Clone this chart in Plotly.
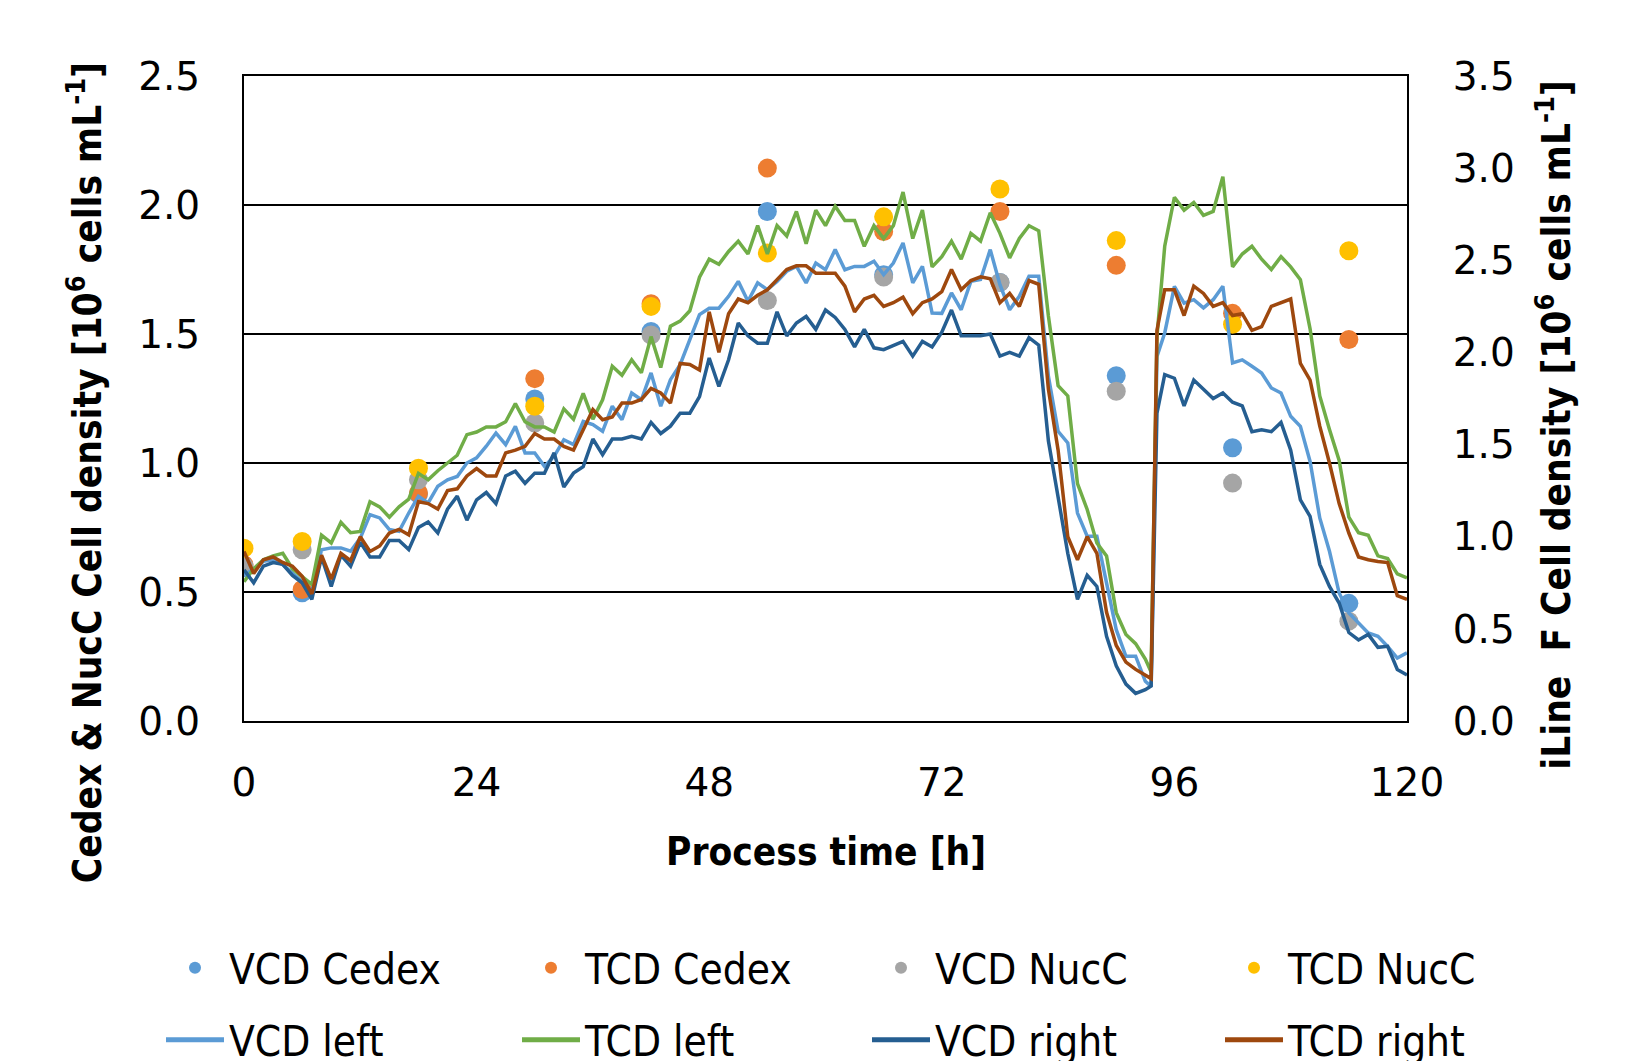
import plotly.graph_objects as go

# ---------------- data ----------------
sample_h = [0, 6, 18, 30, 42, 54, 66, 78, 90, 102, 114]
vcd_cedex = [0.594, 0.497, 0.88, 1.248, 1.51, 1.975, 1.73, 1.70, 1.338, 1.059, 0.456]
tcd_cedex = [0.606, 0.51, 0.884, 1.327, 1.617, 2.143, 1.897, 1.975, 1.766, 1.58, 1.479]
vcd_nucc = [0.60, 0.664, 0.935, 1.155, 1.496, 1.63, 1.721, 1.70, 1.278, 0.922, 0.387]
tcd_nucc = [0.67, 0.696, 0.98, 1.22, 1.607, 1.814, 1.954, 2.062, 1.862, 1.538, 1.823]

time_h = list(range(0, 94)) + [93.6, 94.2] + list(range(95, 121))

vcd_left = [0.567, 0.587, 0.619, 0.625, 0.606, 0.574, 0.541, 0.503, 0.664, 0.671, 0.671, 0.658, 0.709, 0.80, 0.787, 0.742, 0.735, 0.806, 0.871, 0.845, 0.91, 0.935, 0.948, 1.0, 1.02,
            1.065, 1.116, 1.071, 1.142, 1.039, 1.039, 0.987, 1.026, 1.09, 1.071, 1.161, 1.149, 1.123, 1.22, 1.168, 1.271, 1.245, 1.349, 1.22, 1.323, 1.381, 1.478, 1.575, 1.60,
            1.60, 1.646, 1.704, 1.627, 1.698, 1.672, 1.704, 1.743, 1.762, 1.698, 1.775, 1.749, 1.827, 1.749, 1.762, 1.762, 1.782, 1.73, 1.775, 1.853, 1.698, 1.762, 1.581, 1.58,
            1.659, 1.594, 1.704, 1.711, 1.827, 1.691, 1.594, 1.646, 1.724, 1.724, 1.336, 1.123, 1.078, 0.806, 0.716, 0.716, 0.535, 0.354, 0.251, 0.251, 0.154,
            0.134, 1.413, 1.504, 1.685,
            1.62, 1.633, 1.601, 1.633, 1.685, 1.388, 1.40, 1.375, 1.349, 1.291, 1.271, 1.181, 1.142, 1.006, 0.787, 0.658, 0.496, 0.419, 0.38, 0.341, 0.328, 0.289, 0.244, 0.264]

tcd_left = [0.54, 0.59, 0.625, 0.64, 0.65, 0.59, 0.56, 0.53, 0.72, 0.69, 0.77, 0.73, 0.735, 0.85, 0.83, 0.79, 0.83, 0.86, 0.96, 0.935, 0.97, 1.0, 1.03, 1.11, 1.12,
            1.14, 1.14, 1.16, 1.23, 1.16, 1.14, 1.14, 1.12, 1.21, 1.17, 1.27, 1.17, 1.245, 1.375, 1.34, 1.40, 1.35, 1.49, 1.37, 1.53, 1.55, 1.59, 1.72, 1.79,
            1.77, 1.82, 1.86, 1.81, 1.92, 1.81, 1.92, 1.88, 1.975, 1.85, 1.98, 1.92, 1.995, 1.94, 1.94, 1.84, 1.92, 1.87, 1.92, 2.05, 1.87, 1.98, 1.76, 1.80,
            1.86, 1.79, 1.89, 1.86, 1.97, 1.89, 1.795, 1.87, 1.92, 1.90, 1.57, 1.30, 1.26, 0.92, 0.82, 0.69, 0.64, 0.42, 0.335, 0.30, 0.24,
            0.19, 1.49, 1.84, 2.03,
            1.98, 2.01, 1.96, 1.975, 2.11, 1.76, 1.81, 1.84, 1.79, 1.75, 1.80, 1.76, 1.71, 1.52, 1.26, 1.13, 1.01, 0.79, 0.73, 0.72, 0.64, 0.63, 0.57, 0.555]

vcd_right = [0.82, 0.75, 0.84, 0.86, 0.85, 0.79, 0.75, 0.66, 0.89, 0.73, 0.90, 0.84, 0.97, 0.89, 0.89, 0.98, 0.98, 0.93, 1.05, 1.08, 1.02, 1.15, 1.22, 1.09, 1.20,
             1.24, 1.18, 1.33, 1.355, 1.29, 1.345, 1.345, 1.455, 1.27, 1.345, 1.38, 1.53, 1.445, 1.53, 1.53, 1.545, 1.53, 1.62, 1.56, 1.60, 1.67, 1.67, 1.76, 1.97,
             1.815, 1.96, 2.16, 2.09, 2.05, 2.05, 2.22, 2.09, 2.16, 2.195, 2.125, 2.23, 2.19, 2.125, 2.03, 2.125, 2.025, 2.015, 2.04, 2.06, 1.98, 2.06, 2.03, 2.11,
             2.23, 2.09, 2.09, 2.09, 2.10, 1.98, 2.00, 1.98, 2.08, 2.04, 1.52, 1.22, 0.91, 0.66, 0.79, 0.73, 0.46, 0.30, 0.20, 0.15, 0.17,
             0.19, 1.67, 1.88, 1.86,
             1.71, 1.85, 1.80, 1.75, 1.78, 1.73, 1.71, 1.57, 1.58, 1.57, 1.62, 1.47, 1.20, 1.11, 0.85, 0.73, 0.64, 0.48, 0.44, 0.47, 0.40, 0.405, 0.28, 0.25]

tcd_right = [0.92, 0.80, 0.875, 0.89, 0.86, 0.84, 0.785, 0.69, 0.90, 0.77, 0.91, 0.87, 1.00, 0.92, 0.95, 1.02, 1.04, 1.01, 1.19, 1.18, 1.15, 1.25, 1.26, 1.33, 1.37,
             1.33, 1.33, 1.455, 1.47, 1.49, 1.56, 1.53, 1.53, 1.49, 1.47, 1.58, 1.69, 1.635, 1.65, 1.725, 1.725, 1.745, 1.805, 1.78, 1.725, 1.94, 1.935, 1.905, 2.22,
             2.00, 2.21, 2.29, 2.27, 2.31, 2.34, 2.395, 2.45, 2.47, 2.47, 2.43, 2.43, 2.43, 2.36, 2.22, 2.29, 2.31, 2.25, 2.27, 2.30, 2.21, 2.27, 2.29, 2.33,
             2.45, 2.34, 2.39, 2.41, 2.40, 2.27, 2.32, 2.25, 2.39, 2.37, 1.80, 1.47, 1.00, 0.875, 1.00, 0.91, 0.59, 0.41, 0.32, 0.28, 0.25,
             0.23, 2.12, 2.34, 2.34,
             2.20, 2.36, 2.32, 2.25, 2.27, 2.20, 2.21, 2.12, 2.14, 2.25, 2.27, 2.29, 1.94, 1.85, 1.60, 1.40, 1.18, 1.02, 0.89, 0.875, 0.865, 0.86, 0.68, 0.66]

x_ticks = [0, 24, 48, 72, 96, 120]

# ---------------- styling ----------------
W, H = 1639, 1061
L, R, T, B = 243.6, 1407.0, 76.3, 721.3
TXT = "DejaVu Sans Condensed, Liberation Sans Narrow, sans-serif"
TICK = "DejaVu Sans, Verdana, sans-serif"

fig = go.Figure()

marker_specs = [
    ("VCD Cedex", vcd_cedex, "#5B9BD5"),
    ("TCD Cedex", tcd_cedex, "#ED7D31"),
    ("VCD NucC", vcd_nucc, "#A5A5A5"),
    ("TCD NucC", tcd_nucc, "#FFC000"),
]
line_specs = [
    ("VCD left", vcd_left, "#5B9BD5", "y"),
    ("TCD left", tcd_left, "#70AD47", "y"),
    ("VCD right", vcd_right, "#255E91", "y2"),
    ("TCD right", tcd_right, "#9E480E", "y2"),
]

legend_ids = []
k = 0
for name, vals, col in marker_specs:
    k += 1
    lid = "legend" if k == 1 else f"legend{k}"
    legend_ids.append(lid)
    fig.add_trace(go.Scatter(x=sample_h, y=vals, mode="markers", name=name,
                             marker=dict(color=col, size=19, line=dict(width=0)),
                             legend=lid, yaxis="y"))
for name, vals, col, ax in line_specs:
    k += 1
    lid = f"legend{k}"
    legend_ids.append(lid)
    fig.add_trace(go.Scatter(x=time_h, y=vals, mode="lines", name=name,
                             line=dict(color=col, width=3.5),
                             legend=lid, yaxis=ax))

layout_legends = {}
col_x = [161, 517, 867, 1220]
row_y = [968, 1040]
for i, lid in enumerate(legend_ids):
    r, c = divmod(i, 4)
    layout_legends[lid] = dict(
        x=col_x[c] / W, y=1 - row_y[r] / H, xref="container", yref="container",
        xanchor="left", yanchor="middle", orientation="h", itemwidth=58,
        font=dict(family=TXT, size=42, color="black"),
        bgcolor="rgba(0,0,0,0)", borderwidth=0, itemsizing="constant",
    )

fig.update_layout(
    width=W, height=H,
    paper_bgcolor="white", plot_bgcolor="white",
    margin=dict(l=L, r=W - R, t=T, b=H - B, pad=0, autoexpand=False),
    showlegend=True,
    xaxis=dict(range=[0, 120], tickvals=x_ticks, showgrid=False, zeroline=False,
               showline=True, linecolor="black", linewidth=2, mirror=True,
               ticks="outside", ticklen=26, tickcolor="rgba(0,0,0,0)",
               tickfont=dict(family=TICK, size=39, color="black")),
    yaxis=dict(range=[0, 2.5], dtick=0.5, tickformat=".1f", showgrid=True,
               gridcolor="black", gridwidth=1.5, zeroline=False,
               showline=True, linecolor="black", linewidth=2, mirror=True,
               ticks="outside", ticklen=34, tickcolor="rgba(0,0,0,0)",
               tickfont=dict(family=TICK, size=39, color="black")),
    yaxis2=dict(range=[0, 3.5], dtick=0.5, tickformat=".1f", overlaying="y", side="right",
                showgrid=False, zeroline=False, showline=False,
                ticks="outside", ticklen=37, tickcolor="rgba(0,0,0,0)",
                tickfont=dict(family=TICK, size=39, color="black")),
    **layout_legends,
)

title_font = dict(family=TXT, size=38.5, color="black")
fig.add_annotation(text="<b>Process time [h]</b>", xref="paper", yref="paper",
                   x=0.5, y=(B - 852) / (B - T), showarrow=False, font=title_font,
                   xanchor="center", yanchor="middle")
fig.add_annotation(text="<b>Cedex &amp; NucC Cell density [10<sup>6</sup> cells mL<sup>-1</sup>]</b>",
                   xref="paper", yref="paper", x=(84 - L) / (R - L), y=(B - 473) / (B - T),
                   textangle=-90, showarrow=False, font=title_font,
                   xanchor="center", yanchor="middle")
fig.add_annotation(text="<b>iLine\u00a0 F Cell density [10<sup>6</sup> cells mL<sup>-1</sup>]</b>",
                   xref="paper", yref="paper", x=(1554 - L) / (R - L), y=(B - 425) / (B - T),
                   textangle=-90, showarrow=False, font=title_font,
                   xanchor="center", yanchor="middle")

fig.write_html("out.html", config={"displayModeBar": False},
               post_script="document.body.style.margin='0px';document.body.style.padding='0px';")
